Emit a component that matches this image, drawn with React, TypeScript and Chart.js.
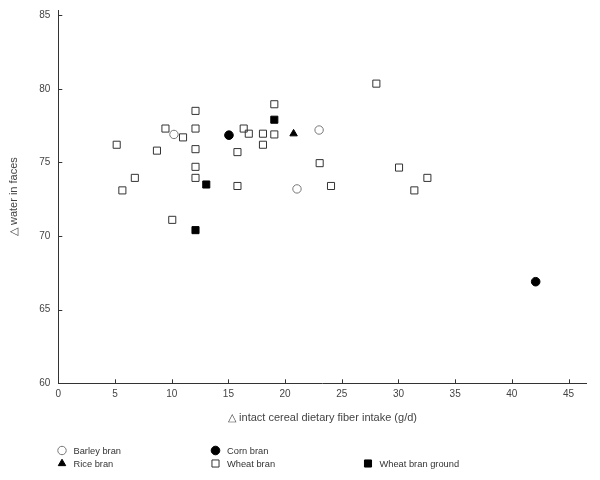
import React, { useEffect, useRef } from 'react';
import { Chart, registerables } from 'chart.js';

Chart.register(...registerables);

// Data (g/d vs water in faeces)
const barleyX = [10.2, 21.05, 23.0];
const barleyY = [76.9, 73.2, 77.2];

const cornX = [15.05, 42.1];
const cornY = [76.85, 66.9];

const riceX = [20.75];
const riceY = [76.95];

const wheatX = [5.15, 5.65, 6.75, 8.7, 9.45, 11.0, 12.1, 12.1, 12.1, 12.1, 12.1, 10.05, 16.35, 16.8, 15.8, 15.8, 18.05, 18.05, 19.05, 19.05, 23.05, 24.05, 28.05, 30.05, 32.55, 31.4];
const wheatY = [76.2, 73.1, 73.95, 75.8, 77.3, 76.7, 78.5, 77.3, 75.9, 74.7, 73.95, 71.1, 77.3, 76.95, 75.7, 73.4, 76.95, 76.2, 78.95, 76.9, 74.95, 73.4, 80.35, 74.65, 73.95, 73.1];

const groundX = [12.1, 13.05, 19.05];
const groundY = [70.4, 73.5, 77.9];

const xTicks = [0, 5, 10, 15, 20, 25, 30, 35, 40, 45];
const yTicks = [60, 65, 70, 75, 80, 85];

const seriesNames = ['Barley bran', 'Corn bran', 'Rice bran', 'Wheat bran', 'Wheat bran ground'];

const FONT = "'Liberation Sans', Arial, sans-serif";

function zip(xs: number[], ys: number[]) {
  return xs.map((x, i) => ({ x, y: ys[i] }));
}

function drawMarker(ctx: CanvasRenderingContext2D, style: string, x: number, y: number, r: number, fill: string, stroke: string) {
  ctx.save();
  ctx.beginPath();
  if (style === 'circle') {
    ctx.arc(x, y, r, 0, Math.PI * 2);
  } else if (style === 'rect') {
    const s = Math.SQRT1_2 * r;
    ctx.rect(x - s, y - s, 2 * s, 2 * s);
  } else if (style === 'triangle') {
    let a = 0;
    ctx.moveTo(x + Math.sin(a) * r, y - Math.cos(a) * r);
    a += (2 * Math.PI) / 3;
    ctx.lineTo(x + Math.sin(a) * r, y - Math.cos(a) * r);
    a += (2 * Math.PI) / 3;
    ctx.lineTo(x + Math.sin(a) * r, y - Math.cos(a) * r);
    ctx.closePath();
  }
  ctx.fillStyle = fill;
  ctx.fill();
  ctx.strokeStyle = stroke;
  ctx.lineWidth = 1;
  ctx.stroke();
  ctx.restore();
}

const extrasPlugin = {
  id: 'extras',
  afterDraw(chart: any) {
    const ctx: CanvasRenderingContext2D = chart.ctx;
    const { left, bottom } = chart.chartArea;
    const xs = chart.scales.x;
    const ys = chart.scales.y;
    ctx.save();
    // inward tick marks
    ctx.strokeStyle = '#333';
    ctx.lineWidth = 1;
    ctx.beginPath();
    xTicks.forEach((v) => {
      const p = Math.round(xs.getPixelForValue(v)) + 0.5;
      ctx.moveTo(p, bottom);
      ctx.lineTo(p, bottom - 4);
    });
    yTicks.forEach((v) => {
      const p = Math.round(ys.getPixelForValue(v)) + 0.5;
      ctx.moveTo(left, p);
      ctx.lineTo(left + 4, p);
    });
    ctx.stroke();

    // legend
    const cols = [62, 215.5, 368];
    const rows = [450.5, 463.5];
    const slots = [
      [0, 0],
      [1, 0],
      [0, 1],
      [1, 1],
      [2, 1],
    ];
    ctx.font = `9.3px ${FONT}`;
    ctx.textBaseline = 'middle';
    ctx.textAlign = 'left';
    chart.data.datasets.forEach((ds: any, i: number) => {
      const [c, r] = slots[i];
      const mx = cols[c];
      const my = rows[r];
      drawMarker(ctx, ds.pointStyle, mx, my, ds.pointRadius, ds.backgroundColor, ds.borderColor);
      ctx.fillStyle = '#333';
      ctx.fillText(ds.label, mx + 11.5, my + 0.5);
    });
    ctx.restore();
  },
};

export default function App() {
  const ref = useRef<HTMLCanvasElement | null>(null);

  useEffect(() => {
    document.body.style.margin = '0';
    if (!ref.current) return;
    const chart = new Chart(ref.current, {
      type: 'scatter',
      data: {
        datasets: [
          {
            label: seriesNames[0],
            data: zip(barleyX, barleyY),
            pointStyle: 'circle',
            pointRadius: 4.2,
            backgroundColor: 'rgba(255,255,255,0)',
            borderColor: '#777',
            borderWidth: 1,
          },
          {
            label: seriesNames[1],
            data: zip(cornX, cornY),
            pointStyle: 'circle',
            pointRadius: 4.3,
            backgroundColor: '#000',
            borderColor: '#000',
            borderWidth: 1,
          },
          {
            label: seriesNames[2],
            data: zip(riceX, riceY),
            pointStyle: 'triangle',
            pointRadius: 4.3,
            backgroundColor: '#000',
            borderColor: '#000',
            borderWidth: 1,
          },
          {
            label: seriesNames[3],
            data: zip(wheatX, wheatY),
            pointStyle: 'rect',
            pointRadius: 5,
            backgroundColor: 'rgba(255,255,255,0)',
            borderColor: '#333',
            borderWidth: 1,
          },
          {
            label: seriesNames[4],
            data: zip(groundX, groundY),
            pointStyle: 'rect',
            pointRadius: 5,
            backgroundColor: '#000',
            borderColor: '#000',
            borderWidth: 1,
          },
        ] as any,
      },
      options: {
        responsive: false,
        animation: false,
        events: [],
        layout: { padding: { top: 10, right: 13.3, left: 0, bottom: 0 } },
        plugins: {
          legend: { display: false },
          tooltip: { enabled: false },
        },
        scales: {
          x: {
            type: 'linear',
            min: 0,
            max: 46.6,
            afterFit: (s: any) => {
              s.height = 96.7;
              s.paddingLeft = 0;
              s.paddingRight = 0;
            },
            afterBuildTicks: (s: any) => {
              s.ticks = xTicks.map((v) => ({ value: v }));
            },
            ticks: {
              padding: 5,
              color: '#444',
              font: { family: FONT, size: 10 },
              maxRotation: 0,
              autoSkip: false,
            },
            grid: { display: true, drawOnChartArea: false, drawTicks: false },
            border: { display: true, color: '#333', width: 1 },
            title: {
              display: true,
              text: '△ intact cereal dietary fiber intake (g/d)',
              color: '#444',
              font: { family: FONT, size: 11 },
              padding: { top: 0, bottom: 55.5 },
            },
          },
          y: {
            type: 'linear',
            min: 60,
            max: 85.35,
            afterFit: (s: any) => {
              s.width = 58.3;
              s.paddingTop = 0;
              s.paddingBottom = 0;
            },
            afterBuildTicks: (s: any) => {
              s.ticks = yTicks.map((v) => ({ value: v }));
            },
            ticks: {
              padding: 8,
              color: '#444',
              font: { family: FONT, size: 10 },
              autoSkip: false,
            },
            grid: { display: true, drawOnChartArea: false, drawTicks: false },
            border: { display: true, color: '#333', width: 1 },
            title: {
              display: true,
              text: '△ water in faces',
              color: '#444',
              font: { family: FONT, size: 11 },
              padding: { top: 7.5, bottom: 0 },
            },
          },
        },
      } as any,
      plugins: [extrasPlugin],
    });
    return () => chart.destroy();
  }, []);

  return (
    <div style={{ width: 600, height: 480 }}>
      <canvas ref={ref} width={600} height={480} style={{ display: 'block' }} />
    </div>
  );
}
